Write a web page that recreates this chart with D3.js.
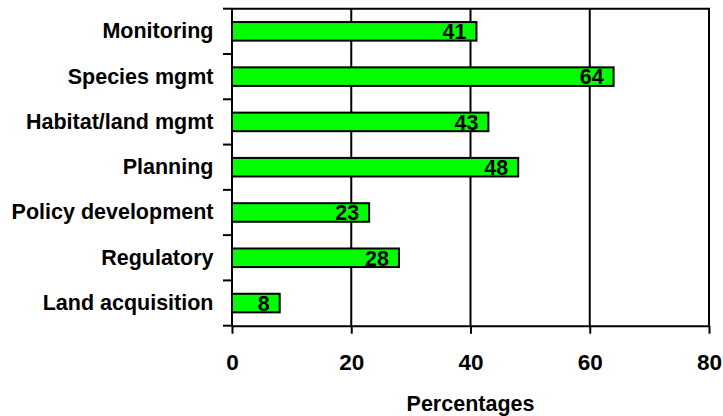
<!DOCTYPE html>
<html>
<head>
<meta charset="utf-8">
<script src="https://cdn.jsdelivr.net/npm/d3@7"></script>
<style>
  html, body { margin: 0; padding: 0; background: #fff; }
  svg { display: block; font-family: "Liberation Sans", Arial, sans-serif; font-weight: bold; }
</style>
</head>
<body>
<svg id="chart" width="723" height="416"></svg>
<script>
// Activity categories, top to bottom
const categories = [
  "Monitoring",
  "Species mgmt",
  "Habitat/land mgmt",
  "Planning",
  "Policy development",
  "Regulatory",
  "Land acquisition"
];
// Share of respondents per activity (%)
const values = [41, 64, 43, 48, 23, 28, 8];
const xTicks = [0, 20, 40, 60, 80];
const xTitle = "Percentages";

const svg = d3.select("#chart");
const plotLeft = 232, plotRight = 709, plotTop = 8.7, plotBottom = 325.7;

const x = d3.scaleLinear().domain([0, 80]).range([plotLeft, plotRight]);
const y = d3.scaleBand()
  .domain(categories)
  .range([plotTop, plotBottom])
  .paddingInner(0.59)
  .paddingOuter(0.295);

const data = categories.map((c, i) => ({ cat: c, val: values[i] }));

// vertical gridlines
svg.append("g")
  .selectAll("line")
  .data(xTicks.filter(t => t > 0 && t < 80))
  .join("line")
  .attr("x1", d => x(d)).attr("x2", d => x(d))
  .attr("y1", plotTop).attr("y2", plotBottom)
  .attr("stroke", "#000").attr("stroke-width", 2);

// plot frame: top and right edges
svg.append("path")
  .attr("d", `M${plotLeft},${plotTop}H${plotRight}V${plotBottom}`)
  .attr("fill", "none").attr("stroke", "#000").attr("stroke-width", 2);

// bars
svg.append("g")
  .selectAll("rect")
  .data(data)
  .join("rect")
  .attr("x", x(0))
  .attr("y", d => y(d.cat))
  .attr("width", d => x(d.val) - x(0))
  .attr("height", y.bandwidth())
  .attr("fill", "#00ff00")
  .attr("stroke", "#000")
  .attr("stroke-width", 2);

// value labels at the inner end of each bar
svg.append("g")
  .selectAll("text")
  .data(data)
  .join("text")
  .attr("x", d => x(d.val) - 10)
  .attr("y", d => y(d.cat) + y.bandwidth() / 2)
  .attr("dy", "0.36em")
  .attr("text-anchor", "end")
  .attr("font-size", 21.5)
  .attr("fill", "#000")
  .text(d => d.val);

// category axis
const yAxis = svg.append("g")
  .attr("transform", `translate(${plotLeft},0)`)
  .call(d3.axisLeft(y).tickSize(0).tickPadding(18.5));
yAxis.select(".domain").remove();
yAxis.selectAll("text")
  .attr("font-size", 21.5)
  .attr("font-family", "Liberation Sans, Arial, sans-serif")
  .attr("font-weight", "bold")
  .attr("fill", "#000");

// tick marks between categories
const bounds = d3.range(categories.length + 1).map(i => plotTop + i * y.step());
svg.append("g")
  .selectAll("line")
  .data(bounds)
  .join("line")
  .attr("x1", plotLeft - 9).attr("x2", plotLeft)
  .attr("y1", d => d).attr("y2", d => d)
  .attr("stroke", "#000").attr("stroke-width", 2);
svg.append("line")
  .attr("x1", plotLeft).attr("x2", plotLeft)
  .attr("y1", plotTop).attr("y2", plotBottom)
  .attr("stroke", "#000").attr("stroke-width", 2);

// value axis
const xAxis = svg.append("g")
  .attr("transform", `translate(0,${plotBottom})`)
  .call(d3.axisBottom(x).tickValues(xTicks).tickSize(8).tickPadding(20).tickSizeOuter(0));
xAxis.select(".domain").attr("stroke", "#000").attr("stroke-width", 2);
xAxis.selectAll(".tick line").attr("stroke", "#000").attr("stroke-width", 2);
xAxis.selectAll("text")
  .attr("font-size", 22.5)
  .attr("font-family", "Liberation Sans, Arial, sans-serif")
  .attr("font-weight", "bold")
  .attr("fill", "#000");

// axis title
svg.append("text")
  .attr("x", x(40))
  .attr("y", 410.5)
  .attr("text-anchor", "middle")
  .attr("font-size", 21.5)
  .attr("fill", "#000")
  .text(xTitle);
</script>
</body>
</html>
